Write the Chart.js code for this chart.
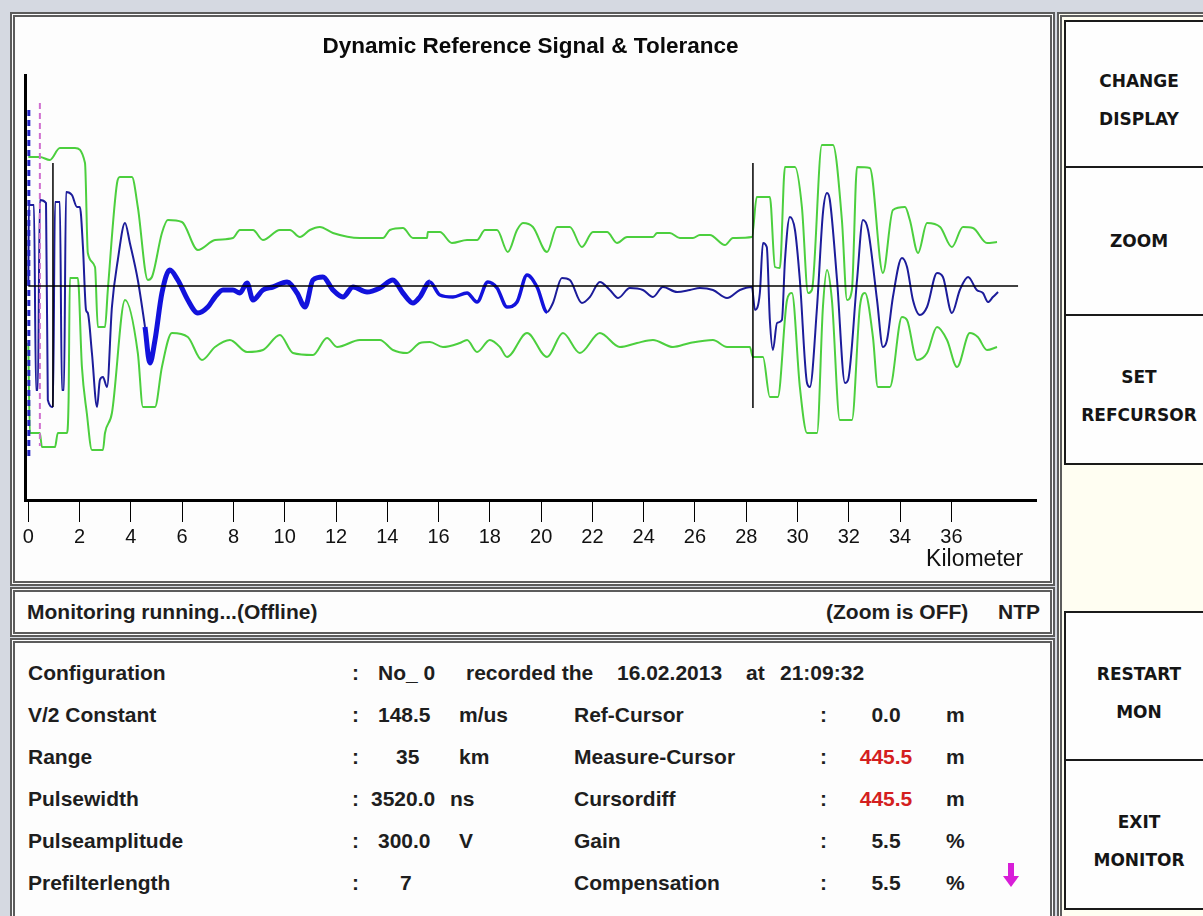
<!DOCTYPE html>
<html>
<head>
<meta charset="utf-8">
<title>Dynamic Reference Signal &amp; Tolerance</title>
<script src="https://cdn.jsdelivr.net/npm/chart.js@4.4.1/dist/chart.umd.min.js"></script>
<style>
  body { margin: 0; width: 1203px; height: 916px; overflow: hidden; position: relative;
         background: #d5d9e1; font-family: "Liberation Sans", Arial, sans-serif; color: #1e1e1e; }
  .panel { position: absolute; box-sizing: border-box; border: 5px double #5c5c5c; background: #fdfdfd; }
  #chartPanel { left: 10px; top: 12px; width: 1045px; height: 574px; }
  #statusPanel { left: 10px; top: 587px; width: 1045px; height: 50px; }
  #infoPanel { left: 10px; top: 638px; width: 1045px; height: 290px; }
  #sidePanel { left: 1057px; top: 12px; width: 170px; height: 920px; background: #fffef2; }
  #chartBox { position: absolute; left: 15px; top: 17px; width: 1035px; height: 564px; }
  .t { position: absolute; font-weight: bold; font-size: 21px; line-height: 26px; white-space: pre; }
  .red { color: #d41f1f; }
  .c { text-align: center; }
  .btn { position: absolute; left: 1064px; width: 150px; box-sizing: border-box; border: 2px solid #1a1a1a;
         background: #fefefe; display: flex; flex-direction: column; align-items: center; justify-content: center;
         font-family: "DejaVu Sans", Verdana, sans-serif; font-weight: bold; font-size: 17px; line-height: 38px; color: #151515; }
</style>
</head>
<body>
<div class="panel" id="chartPanel"></div>
<div id="chartBox"><canvas id="graficoSenal"></canvas></div>

<div class="panel" id="statusPanel"></div>
<div class="t" style="left:27px; top:599px;">Monitoring running...(Offline)</div>
<div class="t" style="left:826px; top:599px;">(Zoom is OFF)</div>
<div class="t" style="left:998px; top:599px;">NTP</div>

<div class="panel" id="infoPanel"></div>
<div class="t" style="left:28px; top:660px;">Configuration</div>
<div class="t" style="left:352px; top:660px;">:</div>
<div class="t" style="left:378px; top:660px;">No_ 0</div>
<div class="t" style="left:466px; top:660px;">recorded the</div>
<div class="t" style="left:617px; top:660px;">16.02.2013</div>
<div class="t" style="left:746px; top:660px;">at</div>
<div class="t" style="left:780px; top:660px;">21:09:32</div>

<div class="t" style="left:28px; top:702px;">V/2 Constant</div>
<div class="t" style="left:352px; top:702px;">:</div>
<div class="t" style="left:378px; top:702px;">148.5</div>
<div class="t" style="left:459px; top:702px;">m/us</div>
<div class="t" style="left:574px; top:702px;">Ref-Cursor</div>
<div class="t" style="left:820px; top:702px;">:</div>
<div class="t c" style="left:846px; width:80px; top:702px;">0.0</div>
<div class="t" style="left:946px; top:702px;">m</div>

<div class="t" style="left:28px; top:744px;">Range</div>
<div class="t" style="left:352px; top:744px;">:</div>
<div class="t" style="left:396px; top:744px;">35</div>
<div class="t" style="left:459px; top:744px;">km</div>
<div class="t" style="left:574px; top:744px;">Measure-Cursor</div>
<div class="t" style="left:820px; top:744px;">:</div>
<div class="t c red" style="left:846px; width:80px; top:744px;">445.5</div>
<div class="t" style="left:946px; top:744px;">m</div>

<div class="t" style="left:28px; top:786px;">Pulsewidth</div>
<div class="t" style="left:352px; top:786px;">:</div>
<div class="t" style="left:371px; top:786px;">3520.0</div>
<div class="t" style="left:450px; top:786px;">ns</div>
<div class="t" style="left:574px; top:786px;">Cursordiff</div>
<div class="t" style="left:820px; top:786px;">:</div>
<div class="t c red" style="left:846px; width:80px; top:786px;">445.5</div>
<div class="t" style="left:946px; top:786px;">m</div>

<div class="t" style="left:28px; top:828px;">Pulseamplitude</div>
<div class="t" style="left:352px; top:828px;">:</div>
<div class="t" style="left:378px; top:828px;">300.0</div>
<div class="t" style="left:459px; top:828px;">V</div>
<div class="t" style="left:574px; top:828px;">Gain</div>
<div class="t" style="left:820px; top:828px;">:</div>
<div class="t c" style="left:846px; width:80px; top:828px;">5.5</div>
<div class="t" style="left:946px; top:828px;">%</div>

<div class="t" style="left:28px; top:870px;">Prefilterlength</div>
<div class="t" style="left:352px; top:870px;">:</div>
<div class="t" style="left:400px; top:870px;">7</div>
<div class="t" style="left:574px; top:870px;">Compensation</div>
<div class="t" style="left:820px; top:870px;">:</div>
<div class="t c" style="left:846px; width:80px; top:870px;">5.5</div>
<div class="t" style="left:946px; top:870px;">%</div>
<svg style="position:absolute; left:1000px; top:860px;" width="22" height="30">
  <rect x="8" y="3" width="6" height="14" fill="#d81ed8"/>
  <polygon points="3,16 19,16 11,27" fill="#d81ed8"/>
</svg>

<div class="panel" id="sidePanel"></div>
<div class="btn" style="top:20px; height:148px; padding-top:12px;"><span>CHANGE</span><span>DISPLAY</span></div>
<div class="btn" style="top:166px; height:150px;"><span>ZOOM</span></div>
<div class="btn" style="top:314px; height:151px; padding-top:12px;"><span>SET</span><span>REFCURSOR</span></div>
<div class="btn" style="top:611px; height:152px; padding-top:12px;"><span>RESTART</span><span>MON</span></div>
<div class="btn" style="top:759px; height:151px; padding-top:12px;"><span>EXIT</span><span>MONITOR</span></div>

<script>
// tolerancia superior (km / amplitud)
const upperKm = [0.00,0.45,0.84,1.23,1.82,2.21,2.32,2.60,2.71,2.99,3.10,3.46,3.57,4.04,4.27,4.66,4.82,5.21,5.44,5.99,6.61,7.28,7.98,8.25,8.76,9.15,9.81,10.20,10.59,10.98,11.37,11.88,12.93,13.83,14.10,14.61,15.00,15.55,15.58,16.05,16.52,17.11,17.50,17.81,18.28,18.70,19.06,19.29,19.68,20.23,20.62,21.12,21.59,22.02,22.57,22.96,23.35,24.36,24.52,25.02,25.41,25.92,26.19,26.58,27.17,27.48,28.22,28.41,28.92,29.12,29.31,29.51,29.90,30.17,30.41,30.56,30.95,31.38,31.73,31.93,32.12,32.32,32.82,33.33,33.72,34.19,34.38,34.70,35.05,35.56,36.02,36.45,36.84,37.39,37.78];
const upperVal = [64.5,64.5,63,69,69,61.5,16.5,9.5,-20.5,-20.5,-2,51.5,54.5,54.5,39.5,3,4.5,26.5,33,32,18,23,24,28,28,23,28,28,24.5,28,29.5,26.5,24,24,28,29,24,24,27,27,21.5,23,23,28,28,17,28,31.5,29.5,17,29.5,29.5,19.5,27,27,21.5,24.5,24.5,26.5,26.5,24,24,25.5,25.5,20.5,24,24.5,44.5,44.5,9.5,9,59.5,59.5,39.5,-3.5,-2,70.5,70.5,33,-7,-2,59.5,59,6.5,38,39.5,33,16.5,31.5,29.5,19.5,29.5,29,21.5,22];

// tolerancia inferior
const lowerKm = [0.00,0.06,0.45,0.53,1.04,1.15,1.50,1.57,1.62,1.93,2.09,2.28,2.48,2.91,2.99,3.26,3.77,4.27,4.47,4.94,5.21,5.60,6.22,6.77,7.28,7.86,8.53,9.15,9.81,10.32,11.10,11.65,12.04,12.93,13.71,14.22,14.77,15.27,15.66,16.17,16.83,17.11,17.50,18.00,18.39,18.67,19.45,20.23,20.85,21.51,22.29,23.07,23.74,24.36,25.14,25.80,26.70,27.25,28.14,28.26,28.65,28.92,29.23,29.59,29.78,30.09,30.37,30.76,30.99,31.15,31.34,31.65,32.12,32.43,32.63,32.94,33.13,33.60,34.07,34.27,34.66,35.05,35.44,35.83,36.22,36.72,37.03,37.39,37.78];
const lowerVal = [-28.5,-73.5,-73.5,-80.5,-80.5,-73.5,-73.5,-57,4,4,-40.5,-63.5,-82,-82,-73.5,-63.5,-7,-33.5,-60.5,-60.5,-40.5,-23.5,-25.5,-37,-30.5,-27,-33,-32,-24.5,-33.5,-34.5,-26,-30.5,-27,-27,-32,-33.5,-28.5,-28,-30.5,-28.5,-27,-33,-27,-30.5,-35.5,-23.5,-35.5,-23.5,-33.5,-23.5,-30.5,-28.5,-27,-30.5,-28.5,-27,-30.5,-30.5,-35.5,-35.5,-55.5,-55.5,-7,-3.5,-50.5,-73.5,-73.5,-10.5,8,-7,-67,-67,-10.5,-3.5,-25.5,-50.5,-50.5,-15.5,-17,-37,-33.5,-20.5,-27,-40.5,-23.5,-25.5,-32,-30.5];

// senal de referencia
const signalKm = [0.00,0.02,0.22,0.30,0.37,0.45,0.69,0.76,0.96,1.04,1.23,1.31,1.39,1.47,1.70,1.90,2.01,2.13,2.25,2.32,2.48,2.68,2.79,2.91,3.07,3.26,3.49,3.77,3.96,4.27,4.55,4.74,4.94,5.21,5.52,5.83,6.22,6.61,7.00,7.28,7.59,7.98,8.25,8.53,8.76,9.15,9.54,10.09,10.48,10.79,11.10,11.49,11.88,12.27,12.66,13.21,13.71,14.22,14.61,15.00,15.27,15.66,16.05,16.56,17.11,17.50,17.92,18.28,18.67,19.06,19.45,19.84,20.23,20.46,20.81,21.12,21.59,21.90,22.29,22.68,23.00,23.46,23.97,24.36,24.75,25.30,25.80,26.19,26.70,27.25,27.75,28.22,28.34,28.53,28.65,28.80,28.92,29.04,29.20,29.39,29.51,29.70,29.90,30.09,30.37,30.48,30.76,30.99,31.15,31.26,31.54,31.85,31.97,32.32,32.55,32.75,33.10,33.33,33.49,33.72,34.07,34.27,34.50,34.77,35.05,35.44,35.67,36.02,36.33,36.65,36.99,37.23,37.43,37.62,37.82];
const signalVal = [0,40.5,40.5,-52,-52,43,41.5,-57,-60.5,42,42,-52,-52,47,45.5,39.5,39.5,19.5,-12,-13.5,-33.5,-60.5,-47,-45.5,-50.5,-10.5,13,31.5,21.5,3,-20.5,-38.5,-27,-3.5,8,3,-7,-13.5,-10.5,-5.5,-2,-2,-3.5,1.5,-7,-2,-0.5,2,-3.5,-10.5,3,4.5,-2,-5.5,-0.5,-3,-1,3,-3.5,-8.5,-5.5,2,-4.5,-5.5,-3.5,-8,2,-1,-10.5,-8,5.5,-0.5,-13,-8.5,4,3,-8.5,-5.5,2,-2,-6,-1,-2,-5.5,-0.5,-3,-2,-1,-2,-6,-2,-0.5,-12,-3.5,21.5,19.5,-17,-32,-18.5,-17,13,34.5,28,3,-48.5,-50.5,-10.5,36.5,46.5,43,3,-48.5,-47,3,33,28,-7,-30.5,-27,-5.5,14,9.5,-7,-14.5,-10.5,6.5,4.5,-13.5,-2,4.5,-2,-3.5,-8,-5.5,-3];

// etiquetas del eje x
const xTickKm = [0,2,4,6,8,10,12,14,16,18,20,22,24,26,28,30,32,34,36];

// cursores
const zeroLineKm = [0, 38.6];
const refCursorKm = 0.02;
const measureCursorKm = 0.45;
const markerLeftKm = 0.96;
const markerRightKm = 28.26;

const toPoints = (xs, ys) => xs.slice(0, Math.min(xs.length, ys.length)).map((x, i) => ({x: x, y: ys[i]}));

const FUENTE = '"Liberation Sans", Arial, sans-serif';

const lineaVertical = (km, desde, hasta, color, ancho, guiones) => ({
    data: [{x: km, y: desde}, {x: km, y: hasta}],
    borderColor: color,
    borderWidth: ancho,
    borderDash: guiones || [],
    pointRadius: 0
});

// grosor de la senal: zona con ruido mas gruesa
const anchoSenal = (ctx) => {
    const x = ctx.p0.parsed.x;
    if (x >= 4.3 && x < 15.5) return 5;
    if (x >= 15.5 && x < 20) return 3.5;
    return 2;
};
const colorSenal = (ctx) => {
    const x = ctx.p0.parsed.x;
    return (x >= 4.3 && x < 20) ? "#1212dc" : "#1c1c9a";
};

const ctx = document.getElementById("graficoSenal");

new Chart(ctx, {
    type: "line",
    data: {
        datasets: [
            {   // linea cero
                data: [{x: zeroLineKm[0], y: 0}, {x: zeroLineKm[1], y: 0}],
                borderColor: "#000",
                borderWidth: 1.5,
                pointRadius: 0
            },
            lineaVertical(markerLeftKm, 61.5, -60.5, "#000", 1.5),
            lineaVertical(markerRightKm, 61.5, -61, "#000", 1.5),
            lineaVertical(measureCursorKm, 91.5, -80, "#cf6fcf", 2, [6, 4]),
            lineaVertical(refCursorKm, 88, -87, "#2424c4", 3, [6, 4]),
            {
                data: toPoints(signalKm, signalVal),
                borderColor: "#1c1c9a",
                borderWidth: 2,
                pointRadius: 0,
                cubicInterpolationMode: "monotone",
                segment: { borderWidth: anchoSenal, borderColor: colorSenal }
            },
            {
                data: toPoints(upperKm, upperVal),
                borderColor: "#4ccf3e",
                borderWidth: 2,
                pointRadius: 0,
                cubicInterpolationMode: "monotone"
            },
            {
                data: toPoints(lowerKm, lowerVal),
                borderColor: "#4ccf3e",
                borderWidth: 2,
                pointRadius: 0,
                cubicInterpolationMode: "monotone"
            }
        ]
    },
    options: {
        responsive: true,
        maintainAspectRatio: false,
        animation: false,
        layout: { padding: { left: 10, right: 14, top: 0, bottom: 0 } },
        plugins: {
            legend: { display: false },
            tooltip: { enabled: false },
            title: {
                display: true,
                text: "Dynamic Reference Signal & Tolerance",
                color: "#0a0a0a",
                font: { family: FUENTE, size: 22.5, weight: "bold" },
                padding: { top: 16.5, bottom: 14.5 }
            }
        },
        scales: {
            x: {
                type: "linear",
                min: -0.13,
                max: 39.3,
                afterBuildTicks: (scale) => { scale.ticks = xTickKm.map(v => ({value: v})); },
                afterFit: (scale) => { scale.height = 81; },
                ticks: {
                    color: "#111",
                    font: { family: FUENTE, size: 20 },
                    padding: 3,
                    maxRotation: 0,
                    autoSkip: false
                },
                grid: {
                    drawOnChartArea: false,
                    drawTicks: true,
                    tickLength: 22,
                    tickColor: "#000",
                    tickWidth: 1
                },
                border: { display: true, color: "#000", width: 3 },
                title: {
                    display: true,
                    text: "Kilometer  ",
                    align: "end",
                    color: "#111",
                    font: { family: FUENTE, size: 23 },
                    padding: { top: 0, bottom: 7.5 }
                }
            },
            y: {
                min: -107,
                max: 105.5,
                afterFit: (scale) => { scale.width = 0; },
                ticks: { display: false },
                grid: { drawOnChartArea: false, drawTicks: false },
                border: { display: true, color: "#000", width: 3 }
            }
        }
    }
});
</script>
</body>
</html>
